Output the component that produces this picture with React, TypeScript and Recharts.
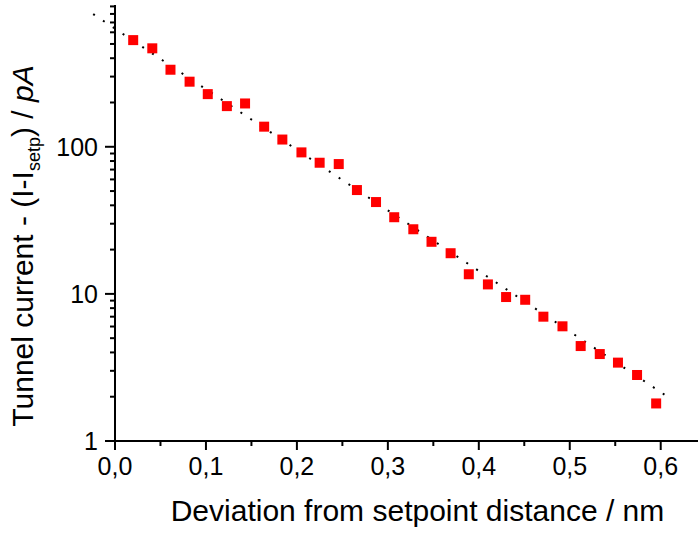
import { ComposedChart, ReferenceLine, Scatter, XAxis, YAxis } from 'recharts';

const distance = [
  0.02, 0.041, 0.061, 0.082, 0.102, 0.123, 0.143, 0.164, 0.184, 0.205, 0.225, 0.246, 0.266, 0.287,
  0.307, 0.328, 0.348, 0.369, 0.389, 0.41, 0.43, 0.451, 0.471, 0.492, 0.512, 0.533, 0.553, 0.574,
  0.595,
];
const current = [
  531, 467, 334, 277, 228, 189, 197, 137, 112, 91.6, 77.9, 76.3, 50.8, 42.1, 33.2, 27.5, 22.6,
  18.9, 13.6, 11.6, 9.52, 9.12, 7.0, 6.02, 4.42, 3.9, 3.41, 2.81, 1.8,
];

// exponential fit, drawn as dotted segment (starts left of the y axis)
const fitX = [-0.024, 0.605];
const fitY = [798, 2.05];

const xTicks = [0, 0.05, 0.1, 0.15, 0.2, 0.25, 0.3, 0.35, 0.4, 0.45, 0.5, 0.55, 0.6];
const yTicks = [
  1, 2, 3, 4, 5, 6, 7, 8, 9, 10, 20, 30, 40, 50, 60, 70, 80, 90, 100, 200, 300, 400, 500, 600, 700,
  800, 900,
];

const data = distance.map((x, i) => ({ x, y: current[i] }));

const FONT = '"Liberation Sans", Arial, sans-serif';

function XTick({ x, y, payload }: any) {
  const v = payload.value;
  const major = Math.round(v * 100) % 10 === 0;
  return (
    <g>
      <line x1={x} x2={x} y1={y} y2={y + (major ? 9 : 5)} stroke="#000" strokeWidth={2} />
      {major && (
        <text x={x} y={y + 34} textAnchor="middle" fontSize={25} fontFamily={FONT} fill="#000">
          {v.toFixed(1).replace('.', ',')}
        </text>
      )}
    </g>
  );
}

function YTick({ x, y, payload }: any) {
  const v = payload.value;
  const lg = Math.log10(v);
  const major = Math.abs(lg - Math.round(lg)) < 1e-9;
  return (
    <g>
      <line x1={x} x2={x - (major ? 10 : 5)} y1={y} y2={y} stroke="#000" strokeWidth={2} />
      {major && (
        <text x={x - 17} y={y + 9} textAnchor="end" fontSize={25} fontFamily={FONT} fill="#000">
          {v}
        </text>
      )}
    </g>
  );
}

function Square({ cx, cy }: any) {
  return <rect x={cx - 5} y={cy - 5} width={10} height={10} fill="#ff0000" />;
}

export default function App() {
  return (
    <div style={{ position: 'absolute', left: 0, top: 0, background: '#fff' }}>
      <ComposedChart width={698} height={534} margin={{ top: 5, right: 0, bottom: 0, left: 0 }}>
        <XAxis
          type="number"
          dataKey="x"
          domain={[0, 0.641]}
          ticks={xTicks}
          interval={0}
          tickSize={0}
          tickMargin={0}
          tickLine={false}
          tick={<XTick />}
          axisLine={{ stroke: '#000', strokeWidth: 2 }}
          height={93}
          label={{
            content: ({ viewBox }: any) => (
              <text
                x={viewBox.x + viewBox.width / 2 + 11}
                y={viewBox.y + 80}
                textAnchor="middle"
                fontSize={30}
                fontFamily={FONT}
                fill="#000"
              >
                Deviation from setpoint distance / nm
              </text>
            ),
          }}
        />
        <YAxis
          type="number"
          dataKey="y"
          scale="log"
          domain={[1, 920]}
          ticks={yTicks}
          interval={0}
          tickSize={0}
          tickMargin={0}
          tickLine={false}
          tick={<YTick />}
          axisLine={{ stroke: '#000', strokeWidth: 2 }}
          width={115}
          label={{
            content: ({ viewBox }: any) => {
              const cx = 33;
              const cy = viewBox.y + viewBox.height / 2 + 23;
              return (
                <text
                  transform={`translate(${cx},${cy}) rotate(-90)`}
                  textAnchor="middle"
                  fontSize={30}
                  fontFamily={FONT}
                  fill="#000"
                >
                  Tunnel current - (I-I
                  <tspan fontSize={18} dy={7}>
                    setp
                  </tspan>
                  <tspan dy={-7}>) / </tspan>
                  <tspan fontStyle="italic">pA</tspan>
                </text>
              );
            },
          }}
        />
        <Scatter data={data} dataKey="y" fill="#ff0000" shape={<Square />} isAnimationActive={false} />
        <ReferenceLine
          segment={[
            { x: fitX[0], y: fitY[0] },
            { x: fitX[1], y: fitY[1] },
          ]}
          ifOverflow="visible"
          stroke="#000"
          strokeWidth={2}
          strokeDasharray="2 9.8"
        />
      </ComposedChart>
    </div>
  );
}
